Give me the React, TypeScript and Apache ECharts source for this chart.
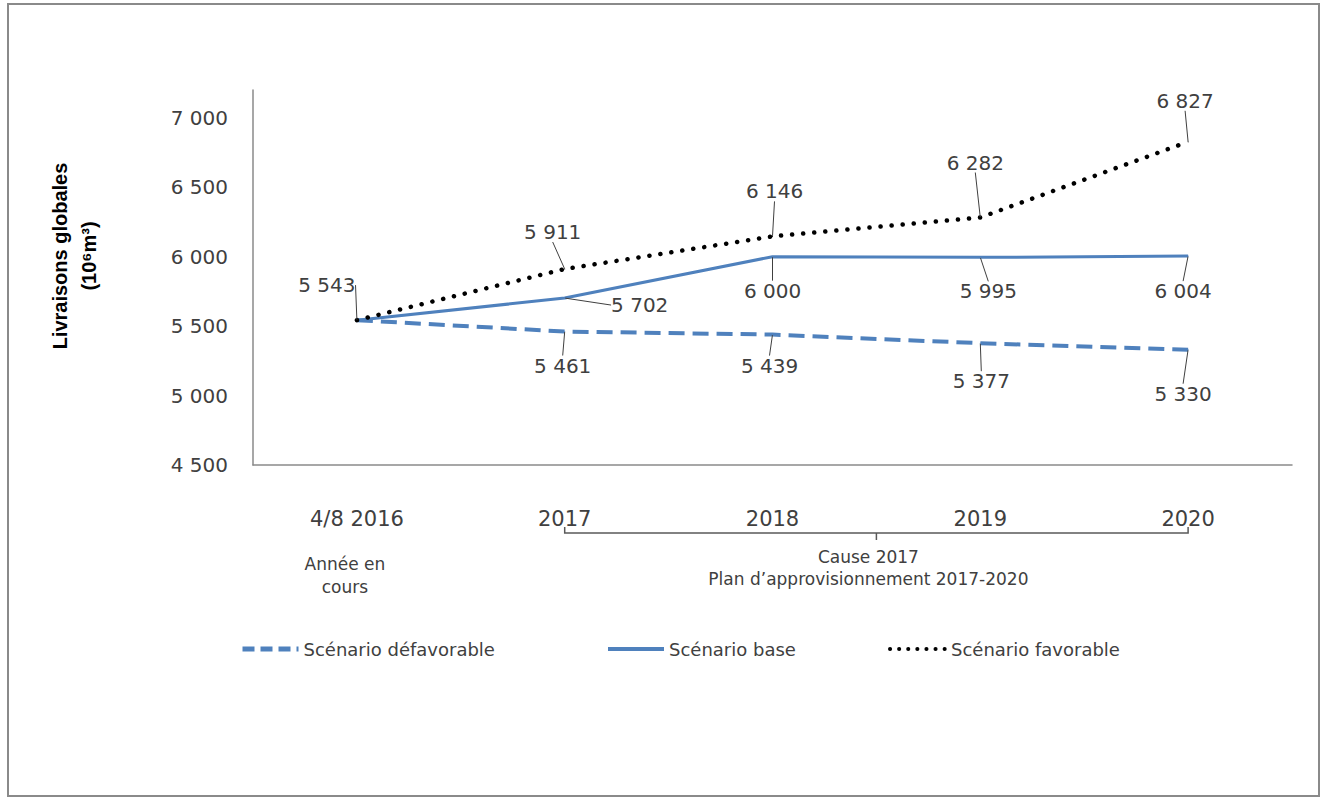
import React, { useEffect, useRef } from "react";
import * as echarts from "echarts";

const categories = ["4/8 2016", "2017", "2018", "2019", "2020"];
const defavorable = [5543, 5461, 5439, 5377, 5330];
const baseScenario = [5543, 5702, 6000, 5995, 6004];
const favorable = [5543, 5911, 6146, 6282, 6827];
const seriesNames = ["Scénario défavorable", "Scénario base", "Scénario favorable"];
const yMin = 4500;
const yMax = 7200;
const yStep = 500;

// label offsets (label centre relative to point), per series
const labelOffsets: number[][][] = [
  [[0, 0], [-2, 34], [-3, 31], [1, 38], [-5, 44]],
  [[0, 0], [75, 7], [0, 34], [8, 34], [-5, 35]],
  [[-30, -35], [-12, -37], [2, -45], [-5, -55], [-3, -41]],
];

const fmt = (v: number) => String(v).replace(/\B(?=(\d{3})+(?!\d))/g, " ");
const TXT = "#404040";
const BLUE = "#4f81bd";
const NUMFONT = "DejaVu Sans";

function makeData(values: number[], hideFirst: boolean) {
  return values.map((v, i) =>
    hideFirst && i === 0
      ? { value: v, label: { show: false }, labelLine: { show: false } }
      : { value: v }
  );
}

export default function App() {
  const ref = useRef<HTMLDivElement>(null);
  useEffect(() => {
    if (!ref.current) return;
    const chart = echarts.init(ref.current, null, { renderer: "svg" });
    const labelCommon = {
      show: true,
      position: "inside",
      formatter: (p: any) => fmt(p.value),
      color: TXT,
      fontFamily: NUMFONT,
      fontSize: 20,
    };
    const labelLineCommon = { show: true, lineStyle: { color: TXT, width: 1 } };
    const legendCommon = {
      top: 640,
      padding: 0,
      itemWidth: 56,
      itemHeight: 14,
      itemGap: 0,
      itemStyle: { opacity: 0 },
      textStyle: { color: TXT, fontFamily: NUMFONT, fontSize: 18 },
    };
    const option: any = {
      animation: false,
      backgroundColor: "#ffffff",
      grid: { left: 253, top: 90, right: 31, bottom: 335, containLabel: false },
      xAxis: {
        type: "category",
        data: categories,
        boundaryGap: true,
        axisTick: { show: false },
        axisLine: { lineStyle: { color: "#8a8a8a", width: 1.5 } },
        axisLabel: { color: TXT, fontFamily: NUMFONT, fontSize: 21, margin: 43 },
      },
      yAxis: {
        type: "value",
        min: yMin,
        max: yMax,
        interval: yStep,
        splitLine: { show: false },
        axisTick: { show: false },
        axisLine: { show: true, lineStyle: { color: "#8a8a8a", width: 1.5 } },
        axisLabel: {
          color: TXT,
          fontFamily: NUMFONT,
          fontSize: 20,
          margin: 25,
          showMaxLabel: false,
          formatter: (v: number) => fmt(v),
        },
      },
      legend: [
        { ...legendCommon, left: 240, data: [seriesNames[0]], lineStyle: { width: 5, type: [12, 6] } },
        { ...legendCommon, left: 606, data: [seriesNames[1]], lineStyle: { width: 4 } },
        { ...legendCommon, left: 888, data: [seriesNames[2]], lineStyle: { width: 4, type: [0.1, 9], cap: "round" } },
      ],
      series: [
        {
          name: seriesNames[0],
          type: "line",
          data: makeData(defavorable, true),
          symbol: "circle",
          symbolSize: 1,
          itemStyle: { color: BLUE },
          lineStyle: { color: BLUE, width: 4, type: [16, 8] },
          label: labelCommon,
          labelLine: labelLineCommon,
          labelLayout: (p: any) => ({ dx: labelOffsets[0][p.dataIndex][0], dy: labelOffsets[0][p.dataIndex][1] }),
          z: 2,
        },
        {
          name: seriesNames[1],
          type: "line",
          data: makeData(baseScenario, true),
          symbol: "circle",
          symbolSize: 1,
          itemStyle: { color: BLUE },
          lineStyle: { color: BLUE, width: 3 },
          label: labelCommon,
          labelLine: labelLineCommon,
          labelLayout: (p: any) => ({ dx: labelOffsets[1][p.dataIndex][0], dy: labelOffsets[1][p.dataIndex][1] }),
          z: 3,
        },
        {
          name: seriesNames[2],
          type: "line",
          data: makeData(favorable, false),
          symbol: "circle",
          symbolSize: 1,
          itemStyle: { color: "#000000" },
          lineStyle: { color: "#000000", width: 4.5, type: [0.1, 11], cap: "round" },
          label: labelCommon,
          labelLine: labelLineCommon,
          labelLayout: (p: any) => ({ dx: labelOffsets[2][p.dataIndex][0], dy: labelOffsets[2][p.dataIndex][1] }),
          z: 4,
        },
      ],
    };
    chart.setOption(option);

    const x0 = chart.convertToPixel({ xAxisIndex: 0 }, categories[0]) as number;
    const x1 = chart.convertToPixel({ xAxisIndex: 0 }, categories[1]) as number;
    const x4 = chart.convertToPixel({ xAxisIndex: 0 }, categories[4]) as number;
    const axisY = chart.convertToPixel({ yAxisIndex: 0 }, yMin) as number;
    const by = axisY + 68;
    const mid = (x1 + x4) / 2;

    chart.setOption({
      graphic: [
        {
          type: "rect",
          shape: { x: 8, y: 4, width: 1311, height: 792 },
          style: { fill: "none", stroke: "#8a8a8a", lineWidth: 2 },
          silent: true,
        },
        {
          type: "text",
          x: 74,
          y: 256,
          rotation: Math.PI / 2,
          style: {
            text: "Livraisons globales\n(10⁶m³)",
            fontFamily: "Liberation Sans",
            fontWeight: "bold",
            fontSize: 20,
            lineHeight: 29,
            fill: "#000",
            align: "center",
            verticalAlign: "middle",
          },
        },
        {
          type: "polyline",
          shape: { points: [[x1, by - 6], [x1, by], [x4, by], [x4, by - 6]] },
          style: { stroke: "#595959", lineWidth: 1.5, fill: "none" },
        },
        {
          type: "line",
          shape: { x1: mid, y1: by, x2: mid, y2: by + 7 },
          style: { stroke: "#595959", lineWidth: 1.5 },
        },
        {
          type: "text",
          x: mid - 8,
          y: by + 35,
          style: {
            text: "Cause 2017\nPlan d’approvisionnement 2017-2020",
            fontFamily: NUMFONT,
            fontSize: 17,
            lineHeight: 22,
            fill: TXT,
            align: "center",
            verticalAlign: "middle",
          },
        },
        {
          type: "text",
          x: x0 - 12,
          y: by + 42,
          style: {
            text: "Année en\ncours",
            fontFamily: NUMFONT,
            fontSize: 17,
            lineHeight: 23,
            fill: TXT,
            align: "center",
            verticalAlign: "middle",
          },
        },
      ],
    });
    return () => chart.dispose();
  }, []);
  return (
    <div
      ref={ref}
      style={{ position: "fixed", left: 0, top: 0, width: 1323, height: 800, background: "#fff" }}
    />
  );
}
